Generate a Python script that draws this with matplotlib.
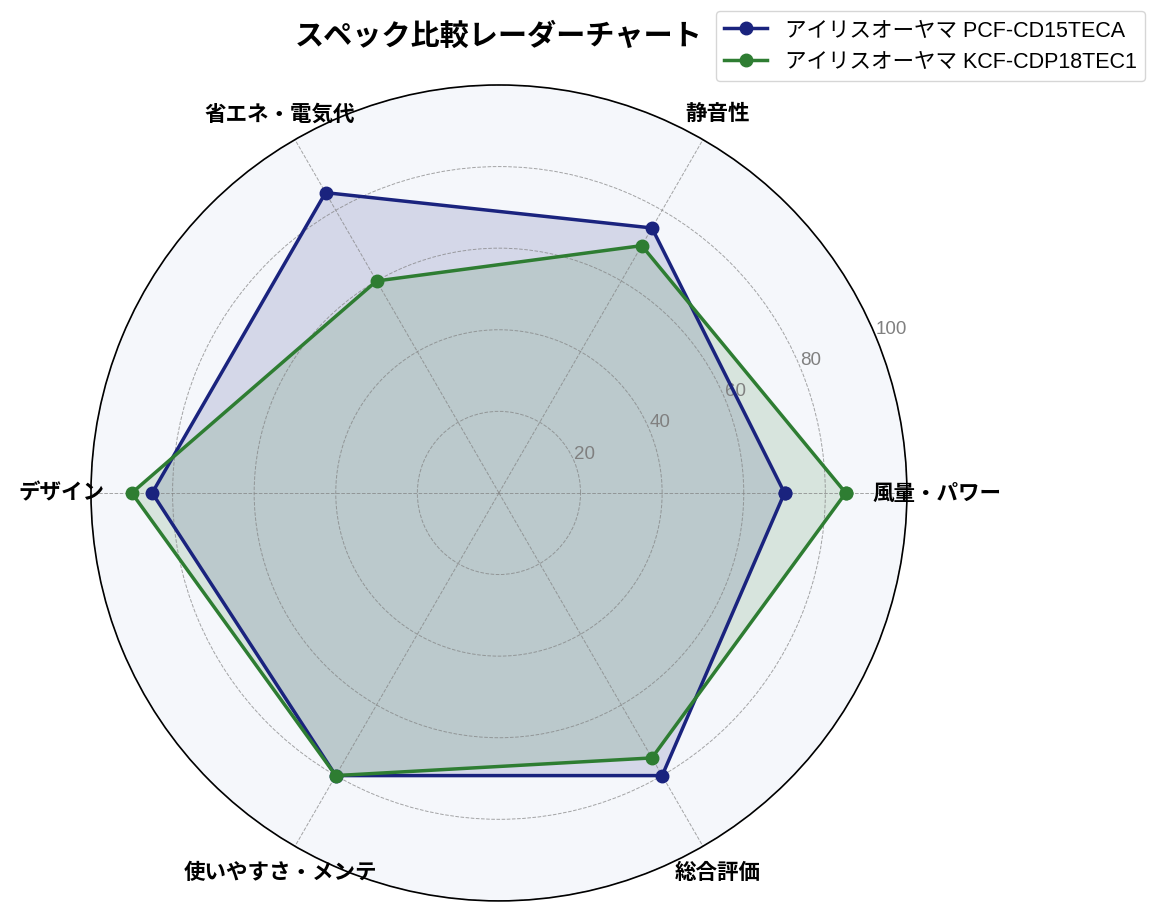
import numpy as np
import matplotlib.pyplot as plt

plt.rcParams['font.family'] = ['Liberation Sans', 'Noto Sans CJK JP', 'DejaVu Sans']

# data
categories = ['風量・パワー', '静音性', '省エネ・電気代', 'デザイン', '使いやすさ・メンテ', '総合評価']
model_a = 'アイリスオーヤマ PCF-CD15TECA'
model_b = 'アイリスオーヤマ KCF-CDP18TEC1'
scores_a = [70, 75, 85, 85, 80, 80]
scores_b = [85, 70, 60, 90, 80, 75]
r_ticks = [20, 40, 60, 80, 100]

n = len(categories)
angles = np.linspace(0, 2 * np.pi, n, endpoint=False).tolist()
angles_closed = angles + angles[:1]

fig = plt.figure(figsize=(11.59, 9.2), dpi=100)
ax = fig.add_axes([0.0785, 0.0196, 0.704, 0.887], projection='polar')
ax.set_facecolor('#f5f7fb')

for scores, color, label in [(scores_a, '#1a237e', model_a), (scores_b, '#2e7d32', model_b)]:
    vals = scores + scores[:1]
    ax.plot(angles_closed, vals, color=color, linewidth=2.5, marker='o', markersize=9, label=label)
    ax.fill(angles_closed, vals, color=color, alpha=0.15)

ax.set_ylim(0, 100)
ax.set_yticks(r_ticks)
ax.set_yticklabels([str(t) for t in r_ticks], color='gray', fontsize=13.5)
ax.set_rlabel_position(22.5)
ax.set_xticks(angles)
ax.set_xticklabels(categories, fontsize=15.5, fontweight='bold')
ax.tick_params(axis='x', pad=11)
ax.grid(color='gray', linestyle='--', linewidth=0.7, alpha=0.7)
ax.spines['polar'].set_color('black')
ax.spines['polar'].set_linewidth(1.2)

fig.text(0.4305, 1 - 37 / 920, 'スペック比較レーダーチャート', ha='center', va='center',
         fontsize=21, fontweight='bold')
fig.legend(loc='upper right', bbox_to_anchor=(1145 / 1159, 1 - 12 / 920),
           bbox_transform=fig.transFigure, fontsize=15.5, borderaxespad=0)

fig.savefig('out.png', dpi=100)
